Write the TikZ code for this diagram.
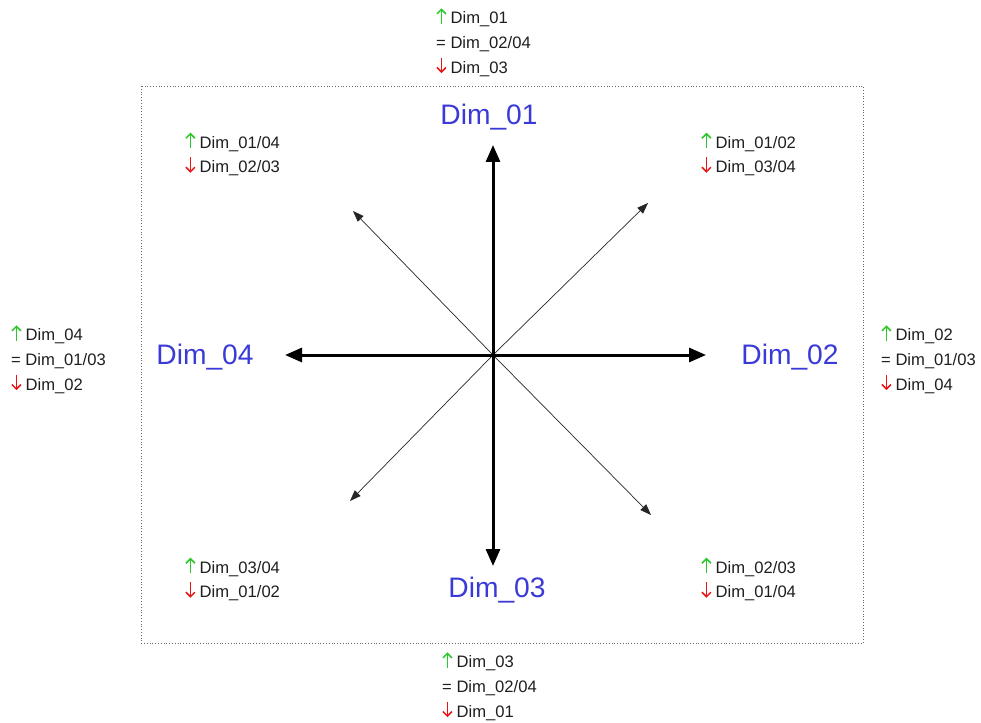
\documentclass[tikz,border=0pt]{standalone}
\usepackage{fontspec}
\setmainfont{Liberation Sans}
\usetikzlibrary{arrows.meta}
\definecolor{dimblue}{RGB}{58,58,214}
\definecolor{upgreen}{RGB}{40,200,40}
\definecolor{downred}{RGB}{235,20,20}
\definecolor{txtgray}{RGB}{30,30,30}
% small trend arrows, prepared once as boxes
\newsavebox\upbox
\newsavebox\downbox
\sbox\upbox{\tikz[baseline=0pt]\draw[upgreen,line width=1.5pt,-{Straight Barb[length=4.5pt,width=9pt]}] (0,0) -- (0,15.5pt);}
\sbox\downbox{\tikz[baseline=0pt]\draw[downred,line width=1.5pt,-{Straight Barb[length=4.5pt,width=9pt]}] (0,15.5pt) -- (0,0);}
\newcommand{\upm}{\usebox\upbox\hspace{4pt}}
\newcommand{\downm}{\usebox\downbox\hspace{4pt}}
\tikzset{
  axis/.style={line width=3pt, -{Triangle[length=17pt,width=14pt]}},
  diag/.style={line width=0.7pt, draw=black!85, -{Triangle[length=11pt,width=8pt]}},
  dimlabel/.style={text=dimblue, font=\fontsize{28.2}{30}\selectfont, inner sep=0pt},
  infobox/.style={text=txtgray, font=\fontsize{16.6}{24.6}\selectfont, align=left, anchor=west, inner sep=0pt},
  frame/.style={draw=black!60, line width=0.8pt, dotted}
}
\begin{document}
\begin{tikzpicture}[x=1pt,y=-1pt]
  \useasboundingbox (0,0) rectangle (981,722);
  % outer frame
  \draw[frame] (141,86) rectangle (863,643);

  % centre and arrow ends
  \coordinate (c) at (493,355);
  \coordinate (n) at (493,145);
  \coordinate (s) at (493,566);
  \coordinate (w) at (285,355);
  \coordinate (e) at (706,355);
  \coordinate (nw) at (353,211);
  \coordinate (ne) at (648,203);
  \coordinate (sw) at (350,501);
  \coordinate (se) at (651,515);

  % diagonal arrows
  \draw[diag] (c) -- (nw);
  \draw[diag] (c) -- (ne);
  \draw[diag] (c) -- (sw);
  \draw[diag] (c) -- (se);

  % main axes
  \draw[axis] (c) -- (n);
  \draw[axis] (c) -- (s);
  \draw[axis] (c) -- (w);
  \draw[axis] (c) -- (e);

  % axis names
  \node[dimlabel] (d1) at (489,117) {Dim\_01};
  \node[dimlabel] (d2) at (790,357) {Dim\_02};
  \node[dimlabel] (d3) at (497,590) {Dim\_03};
  \node[dimlabel] (d4) at (205,357) {Dim\_04};

  % outer info blocks
  \node[infobox] (itop) at (436,42) {\upm Dim\_01\\= Dim\_02/04\\\downm Dim\_03};
  \node[infobox] (ibot) at (442,686) {\upm Dim\_03\\= Dim\_02/04\\\downm Dim\_01};
  \node[infobox] (ileft) at (11,359) {\upm Dim\_04\\= Dim\_01/03\\\downm Dim\_02};
  \node[infobox] (iright) at (881,359) {\upm Dim\_02\\= Dim\_01/03\\\downm Dim\_04};

  % corner info blocks
  \node[infobox] (inw) at (185,154) {\upm Dim\_01/04\\\downm Dim\_02/03};
  \node[infobox] (ine) at (701,154) {\upm Dim\_01/02\\\downm Dim\_03/04};
  \node[infobox] (isw) at (185,579) {\upm Dim\_03/04\\\downm Dim\_01/02};
  \node[infobox] (ise) at (701,579) {\upm Dim\_02/03\\\downm Dim\_01/04};
\end{tikzpicture}
\end{document}
